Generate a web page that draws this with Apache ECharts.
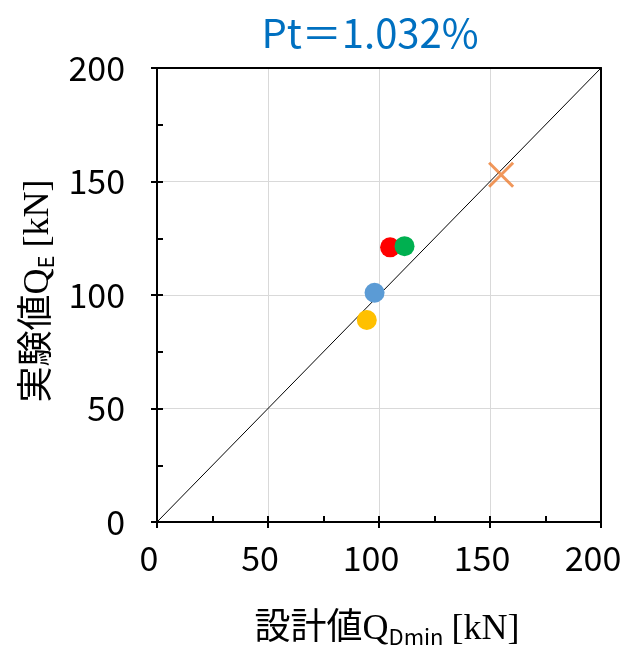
<!DOCTYPE html>
<html>
<head>
<meta charset="utf-8">
<script src="https://cdn.jsdelivr.net/npm/echarts@6/dist/echarts.min.js"></script>
<style>
html,body{margin:0;padding:0;background:#fff;}
#c{width:623px;height:660px;}
</style>
</head>
<body>
<div id="c"></div>
<script>
// ---- data ----
const titleText = 'Pt＝1.032%';
const specimens = ['red', 'green', 'blue', 'yellow'];
const designQ = [105, 111.5, 98, 94.5];      // 設計値 Q_Dmin [kN]
const testQ   = [121, 121.5, 101, 89];       // 実験値 Q_E [kN]
const crossDesign = [155];
const crossTest = [153];
const refLineX = [0, 200];
const refLineY = [0, 200];
const axisMin = 0, axisMax = 200, majorStep = 50, minorStep = 25;

// ---- styles ----
const pointColors = ['#FF0000', '#00B050', '#5B9BD5', '#FFC000'];
const crossColor = '#ED7D31';
const numFont = "'Noto Sans CJK JP', 'Noto Sans', sans-serif";
const nameFont = "'Liberation Serif', 'Noto Sans CJK JP', serif";

const chart = echarts.init(document.getElementById('c'), null, {renderer: 'canvas'});

const gridCfg = {left: 157, top: 68, right: 22, bottom: 138, containLabel: false, outerBoundsMode: 'none'};

function baseAxis(extra) {
  return Object.assign({
    type: 'value', min: axisMin, max: axisMax, interval: majorStep,
    axisLine: {show: true, onZero: false, lineStyle: {color: '#000', width: 2}},
    axisTick: {show: false}, axisLabel: {show: false}, splitLine: {show: false}
  }, extra);
}

const richName = {
  a: {fontFamily: nameFont, fontSize: 36, color: '#000', lineHeight: 42, verticalAlign: 'bottom'},
  s: {fontFamily: numFont, fontSize: 22, color: '#000', lineHeight: 20, verticalAlign: 'bottom', padding: [0, 8, 0, 0]}
};

const xAxes = [
  baseAxis({
    position: 'bottom',
    axisTick: {show: true, inside: false, length: 6, lineStyle: {color: '#000', width: 2}},
    axisLabel: {show: true, margin: 19, fontFamily: numFont, fontSize: 34, color: '#000', padding: [0, 16, 0, 0]},
    splitLine: {show: true, lineStyle: {color: '#D9D9D9', width: 1}},
    name: '{a|設計値Q}{s|Dmin}{a|[kN]}',
    nameLocation: 'middle', nameGap: 84,
    nameTextStyle: {rich: richName, padding: [0, 0, 0, 16]}
  }),
  baseAxis({
    position: 'bottom', interval: minorStep,
    axisTick: {show: true, inside: true, length: 6, lineStyle: {color: '#000', width: 2}}
  }),
  baseAxis({position: 'top'})
];

const yAxes = [
  baseAxis({
    position: 'left',
    axisTick: {show: true, inside: false, length: 6, lineStyle: {color: '#000', width: 2}},
    axisLabel: {show: true, margin: 32, fontFamily: numFont, fontSize: 34, color: '#000'},
    splitLine: {show: true, lineStyle: {color: '#D9D9D9', width: 1}},
    name: '{a|実験値Q}{s|E}{a|[kN]}',
    nameLocation: 'middle', nameGap: 100, nameRotate: 90,
    nameTextStyle: {rich: richName, padding: [0, 0, 0, 8]}
  }),
  baseAxis({
    position: 'left', interval: minorStep,
    axisTick: {show: true, inside: true, length: 6, lineStyle: {color: '#000', width: 2}}
  }),
  baseAxis({position: 'right'})
];

const series = [{
  type: 'line',
  xAxisIndex: 0, yAxisIndex: 0,
  data: refLineX.map((v, i) => [v, refLineY[i]]),
  showSymbol: false, symbol: 'none',
  lineStyle: {color: '#000', width: 1},
  silent: true, animation: false, z: 1
}];

specimens.forEach((name, i) => {
  series.push({
    type: 'scatter', name: name,
    xAxisIndex: 0, yAxisIndex: 0,
    data: [[designQ[i], testQ[i]]],
    symbol: 'circle', symbolSize: 20,
    itemStyle: {color: pointColors[i], opacity: 1},
    animation: false, z: 3
  });
});

series.push({
  type: 'scatter', name: 'cross',
  xAxisIndex: 0, yAxisIndex: 0,
  data: crossDesign.map((v, i) => [v, crossTest[i]]),
  symbol: 'path://M0,0L10,10M10,0L0,10',
  symbolSize: 24,
  itemStyle: {color: 'rgba(0,0,0,0)', borderColor: crossColor, borderWidth: 3},
  animation: false, z: 3
});

chart.setOption({
  animation: false,
  backgroundColor: '#fff',
  title: {
    text: titleText, left: 365, top: 8, textAlign: 'center',
    textStyle: {color: '#0070C0', fontSize: 40, fontWeight: 'normal',
      fontFamily: "'Noto Sans CJK JP', 'Noto Sans', sans-serif"}
  },
  grid: gridCfg,
  xAxis: xAxes,
  yAxis: yAxes,
  series: series
});
</script>
</body>
</html>
